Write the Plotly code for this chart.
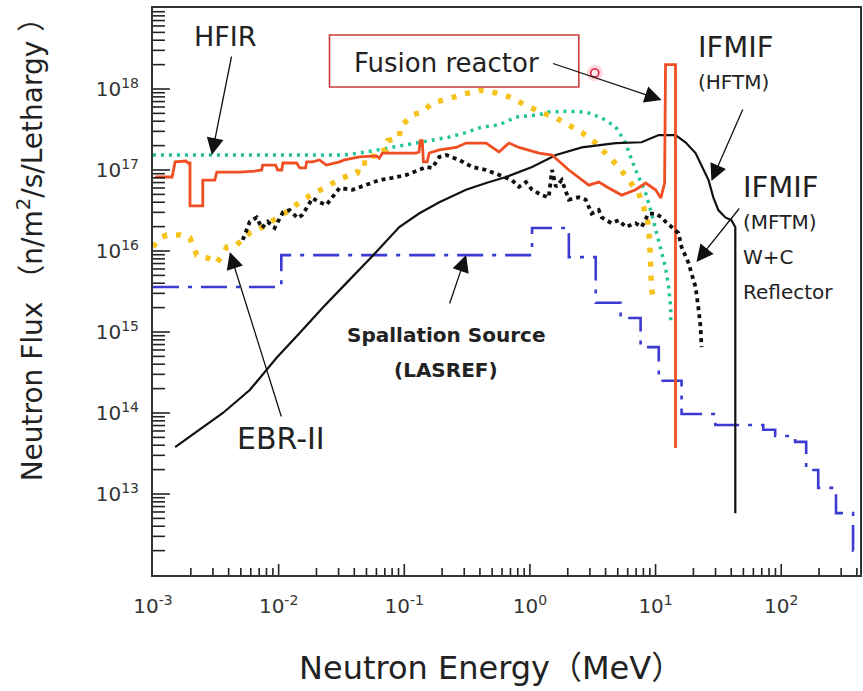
import math
import plotly.graph_objects as go

# ---- Neutron spectra: energy (MeV) vs flux (n/m^2/s/lethargy) ----

# Fusion reactor first wall (with the 14 MeV peak)
fusion_E = [0.00104, 0.00142, 0.0015, 0.00183, 0.0019, 0.00197, 0.00197, 0.00249, 0.00249, 0.0031,
            0.00322, 0.0049, 0.00645, 0.00733, 0.00746, 0.00946, 0.00982, 0.0106, 0.0108, 0.0139,
            0.0147, 0.0164, 0.0167, 0.0186, 0.0211, 0.024, 0.0305, 0.0334, 0.044, 0.06,
            0.0633, 0.0669, 0.124, 0.131, 0.134, 0.139, 0.142, 0.152, 0.158, 0.19,
            0.259, 0.31, 0.448, 0.499, 0.567, 0.645, 0.681, 0.818, 1.18, 1.5,
            2.04, 2.94, 3.53, 4.24, 5.37, 6.94, 8.34, 10.0, 11.0, 11.8,
            12.0, 14.4, 14.4]
fusion_F = [8.2e16, 8.2e16, 1.26e17, 1.29e17, 1.22e17, 1.22e17, 3.6e16, 3.6e16, 7.5e16, 7.5e16,
            9.4e16, 9.4e16, 9.7e16, 1.0e17, 1.15e17, 1.15e17, 1.0e17, 1.0e17, 1.22e17, 1.22e17,
            1.06e17, 1.06e17, 1.26e17, 1.26e17, 1.33e17, 1.15e17, 1.26e17, 1.33e17, 1.45e17, 1.49e17,
            1.4e17, 1.62e17, 1.62e17, 1.67e17, 2.3e17, 2.3e17, 1.26e17, 1.26e17, 1.62e17, 1.77e17,
            1.9e17, 2.15e17, 2.15e17, 1.9e17, 1.67e17, 2.0e17, 2.15e17, 1.9e17, 1.62e17, 1.53e17,
            1.0e17, 6.5e16, 7.1e16, 6.0e16, 4.9e16, 5.7e16, 6.9e16, 5.7e16, 4.5e16, 6.9e16,
            2.0e18, 2.0e18, 3.7e13]

# HFIR
hfir_E = [0.001, 0.0334, 0.0499, 0.131, 0.228, 0.31, 0.416, 0.567, 0.774, 1.18,
          1.41, 1.93, 2.78, 3.73, 4.82, 5.78, 6.45, 7.33, 8.34, 9.29,
          10.6, 12.0, 12.7, 13.2, 13.2]
hfir_F = [1.53e17, 1.53e17, 1.67e17, 2.2e17, 2.55e17, 2.9e17, 3.4e17, 3.6e17, 4.5e17, 4.8e17,
          5.2e17, 5.3e17, 5.2e17, 4.4e17, 3.4e17, 2.15e17, 1.33e17, 8.2e16, 5.2e16, 2.9e16,
          1.37e16, 6.3e15, 3.6e15, 2.0e15, 1.29e15]

# EBR-II
ebr_E = [0.001, 0.00114, 0.00129, 0.00164, 0.00197, 0.00223, 0.00273, 0.00322, 0.00353, 0.00387,
         0.00464, 0.00589, 0.00746, 0.00964, 0.0122, 0.0155, 0.0193, 0.0254, 0.0322, 0.0424,
         0.044, 0.0547, 0.0578, 0.072, 0.0737, 0.0913, 0.093, 0.116, 0.139, 0.167,
         0.2, 0.24, 0.31, 0.394, 0.499, 0.681, 0.929, 1.24, 1.61, 2.15,
         2.59, 3.34, 4.24, 5.09, 6.1, 7.33, 8.03, 8.65, 8.96, 9.12,
         9.29, 9.29, 10.0]
ebr_F = [1.12e16, 1.45e16, 1.58e16, 1.58e16, 1.45e16, 8.9e15, 8.2e15, 7.1e15, 8.9e15, 1.12e16,
         1.19e16, 1.67e16, 1.98e16, 2.55e16, 3.2e16, 4.3e16, 5.2e16, 6.5e16, 8.0e16, 9.2e16,
         1.22e17, 1.22e17, 1.67e17, 1.77e17, 2.3e17, 2.5e17, 3.4e17, 4.8e17, 5.2e17, 6.7e17,
         7.3e17, 7.7e17, 8.9e17, 9.7e17, 9.2e17, 8.0e17, 6.3e17, 5.1e17, 4.4e17, 3.4e17,
         2.9e17, 2.15e17, 1.45e17, 1.09e17, 7.5e16, 5.2e16, 3.5e16, 2.3e16, 1.37e16, 8.4e15,
         5.3e15, 3.3e15, 2.3e15]

# IFMIF high flux test module
hftm_E = [0.0015, 0.00236, 0.0036, 0.00589, 0.00964, 0.0147, 0.0223, 0.0366, 0.0568, 0.0913,
          0.131, 0.19, 0.31, 0.448, 0.645, 1.04, 1.61, 2.59, 4.82, 7.74,
          10.6, 14.4, 17.3, 20.8, 23.2, 26.4, 28.8, 31.6, 35.9, 40.1,
          43.1, 43.1]
hftm_F = [3.8e13, 6.2e13, 1.0e14, 1.92e14, 4.8e14, 9.7e14, 1.98e15, 4.4e15, 8.9e15, 1.98e16,
          2.9e16, 4.0e16, 5.7e16, 6.9e16, 8.2e16, 1.09e17, 1.53e17, 1.9e17, 2.15e17, 2.2e17,
          2.7e17, 2.7e17, 2.2e17, 1.62e17, 1.15e17, 7.5e16, 4.6e16, 3.2e16, 2.6e16, 2.4e16,
          1.98e16, 5.8e12]

# IFMIF medium flux test module, W+C reflector
mftm_E = [0.00518, 0.00589, 0.00669, 0.00733, 0.00818, 0.00929, 0.0108, 0.0122, 0.0142, 0.0155,
          0.0186, 0.0211, 0.024, 0.0305, 0.0387, 0.0499, 0.0633, 0.0803, 0.104, 0.131,
          0.15, 0.167, 0.19, 0.216, 0.273, 0.347, 0.448, 0.567, 0.72, 0.818,
          0.929, 1.04, 1.24, 1.41, 1.5, 1.61, 1.79, 2.04, 2.45, 2.78,
          3.1, 3.53, 3.73, 4.47, 5.09, 5.78, 6.94, 7.74, 8.8, 10.0,
          11.2, 12.0, 13.4, 15.2, 16.1, 17.3, 18.3, 19.3, 20.8, 21.9,
          22.8, 23.2]
mftm_F = [1.37e16, 2.3e16, 2.6e16, 1.92e16, 2.3e16, 1.92e16, 3.0e16, 3.2e16, 2.55e16, 2.8e16,
          4.5e16, 4.0e16, 3.7e16, 6.0e16, 5.7e16, 6.5e16, 7.5e16, 8.0e16, 8.7e16, 1.0e17,
          1.09e17, 1.06e17, 1.45e17, 1.53e17, 1.33e17, 1.09e17, 1.0e17, 8.7e16, 7.5e16, 6.2e16,
          7.1e16, 5.7e16, 4.9e16, 4.6e16, 1.0e17, 6.2e16, 7.5e16, 4.3e16, 4.6e16, 4.3e16,
          2.9e16, 3.2e16, 2.6e16, 2.2e16, 2.4e16, 1.98e16, 2.2e16, 1.98e16, 2.9e16, 2.9e16,
          2.6e16, 2.3e16, 1.98e16, 1.67e16, 1.12e16, 8.4e15, 7.1e15, 5.3e15, 3.6e15, 2.0e15,
          1.15e15, 6.5e14]

# Spallation source (LASREF), group-wise histogram
las_E = [0.001, 0.0105, 1.04, 2.04, 3.34, 5.27, 7.6, 10.6, 16.1, 29.9,
         71.9, 89.5, 129, 158, 197, 273, 373, 431]
las_F = [3.6e15, 8.9e15, 1.92e16, 8.4e15, 2.3e15, 1.49e15, 6.5e14, 2.5e14, 9.7e13, 7.1e13,
         6.2e13, 5.2e13, 4.4e13, 1.98e13, 1.19e13, 5.8e12, 2.0e12, 2.0e12]

x_tickvals = [1e-3, 1e-2, 1e-1, 1e0, 1e1, 1e2]
x_ticktext = ["10<sup>-3</sup>", "10<sup>-2</sup>", "10<sup>-1</sup>",
              "10<sup>0</sup>", "10<sup>1</sup>", "10<sup>2</sup>"]
y_tickvals = [1e13, 1e14, 1e15, 1e16, 1e17, 1e18]
y_ticktext = ["10<sup>13</sup>", "10<sup>14</sup>", "10<sup>15</sup>",
              "10<sup>16</sup>", "10<sup>17</sup>", "10<sup>18</sup>"]

X_RANGE = [-3, 2.627]   # log10 MeV
Y_RANGE = [12, 19]      # log10 flux

RED = "#f04e23"
TEAL = "#22c49c"
GOLD = "#f7c21c"
BLUE = "#3b3bd2"
BLACK = "#111111"
AXIS = "#222222"
FONT = "DejaVu Sans, Noto Sans CJK JP, sans-serif"

# plot area in canvas pixels -> paper fractions
X0, X1, Y0, Y1 = 153, 862, 8, 575
PW, PH = X1 - X0, Y1 - Y0

fig = go.Figure()
fig.add_trace(go.Scatter(x=las_E, y=las_F, mode="lines", line_shape="hv",
                         line=dict(color=BLUE, width=2.6, dash="26px,9px,4px,9px")))
fig.add_trace(go.Scatter(x=hfir_E, y=hfir_F, mode="lines",
                         line=dict(color=TEAL, width=3.5, dash="3px,5px")))
fig.add_trace(go.Scatter(x=ebr_E, y=ebr_F, mode="lines",
                         line=dict(color=GOLD, width=5.5, dash="5px,9px")))
fig.add_trace(go.Scatter(x=hftm_E, y=hftm_F, mode="lines",
                         line=dict(color=BLACK, width=2.2)))
fig.add_trace(go.Scatter(x=fusion_E, y=fusion_F, mode="lines",
                         line=dict(color=RED, width=2.8)))
fig.add_trace(go.Scatter(x=mftm_E, y=mftm_F, mode="lines",
                         line=dict(color=BLACK, width=3.8, dash="4px,4px")))

# inward log tick comb along the bottom and left axes
# (decades long, 2..9 short); lengths converted from pixels to decades
dec_x = PW / (X_RANGE[1] - X_RANGE[0])
dec_y = PH / (Y_RANGE[1] - Y_RANGE[0])
bx, by, lx, ly = [], [], [], []
for e in range(-3, 3):
    for m in range(1, 10):
        v = math.log10(m) + e
        if X_RANGE[0] < v < X_RANGE[1]:
            L = 11 if m == 1 else 7
            bx += [10 ** v, 10 ** v, None]
            by += [10 ** Y_RANGE[0], 10 ** (Y_RANGE[0] + L / dec_y), None]
for e in range(12, 19):
    for m in range(1, 10):
        v = math.log10(m) + e
        if Y_RANGE[0] < v < Y_RANGE[1]:
            L = 17 if m == 1 else 12
            lx += [10 ** X_RANGE[0], 10 ** (X_RANGE[0] + L / dec_x), None]
            ly += [10 ** v, 10 ** v, None]
for tx, ty in ((bx, by), (lx, ly)):
    fig.add_trace(go.Scatter(x=tx, y=ty, mode="lines", hoverinfo="skip",
                             line=dict(color=AXIS, width=1.6)))


def fx(p):
    return (p - X0) / PW


def fy(p):
    return (Y1 - p) / PH


def label(text, px, py, size, anchor="center", bold=False):
    if bold:
        text = "<b>" + text + "</b>"
    return dict(text=text, x=fx(px), y=fy(py), xref="paper", yref="paper",
                xanchor=anchor, yanchor="middle", showarrow=False,
                font=dict(family=FONT, size=size, color="#222222"))


def arrow(tail, tip):
    return dict(text="", x=fx(tip[0]), y=fy(tip[1]), xref="paper", yref="paper",
                ax=tail[0] - tip[0], ay=tail[1] - tip[1], axref="pixel", ayref="pixel",
                showarrow=True, arrowhead=2, arrowsize=2.6, arrowwidth=1.3,
                arrowcolor="#111111")


annotations = [
    label("HFIR", 226, 36, 27),
    label("Fusion reactor", 447, 63, 26),
    label("IFMIF", 698, 47, 29, anchor="left"),
    label("(HFTM)", 698, 82, 20, anchor="left"),
    label("IFMIF", 743, 187, 29, anchor="left"),
    label("(MFTM)", 743, 222, 20, anchor="left"),
    label("W+C", 743, 257, 20, anchor="left"),
    label("Reflector", 743, 292, 20, anchor="left"),
    label("Spallation Source", 447, 335, 20, bold=True),
    label("(LASREF)", 447, 370, 20, bold=True),
    label("EBR-II", 281, 438, 30),
    arrow((232, 55), (212, 155)),
    arrow((553, 63), (663, 100)),
    arrow((745, 108), (713, 181)),
    arrow((742, 207), (698, 262)),
    arrow((450, 305), (467, 255)),
    arrow((282, 418), (230, 252)),
    dict(text="Neutron Energy（MeV）", x=fx(492), y=fy(668), xref="paper", yref="paper",
         showarrow=False, xanchor="center", yanchor="middle",
         font=dict(family=FONT, size=32, color="#222222")),
    dict(text="Neutron Flux （n/m<sup>2</sup>/s/Lethargy ）", x=fx(30), y=fy(242),
         xref="paper", yref="paper", showarrow=False, textangle=-90,
         xanchor="center", yanchor="middle",
         font=dict(family=FONT, size=28, color="#222222")),
]

shapes = [
    dict(type="rect", xref="paper", yref="paper", x0=fx(330), x1=fx(580), y0=fy(87), y1=fy(35),
         line=dict(color="#cc3b3b", width=1.6), fillcolor="rgba(0,0,0,0)"),
    dict(type="circle", xref="paper", yref="paper", x0=fx(588), x1=fx(604), y0=fy(81), y1=fy(65),
         line=dict(width=0), fillcolor="rgba(255,90,120,0.25)"),
    dict(type="circle", xref="paper", yref="paper", x0=fx(592), x1=fx(600), y0=fy(77), y1=fy(69),
         line=dict(color="#e02040", width=1.6), fillcolor="rgba(255,255,255,0.6)"),
]

axis_common = dict(type="log", showgrid=False, zeroline=False, showline=True,
                   linewidth=2, linecolor="#333333", mirror=True,
                   ticks="", tickmode="array",
                   tickfont=dict(family=FONT, size=20, color="#333333"))

fig.update_layout(
    width=863, height=691,
    margin=dict(l=X0, r=863 - X1, t=Y0, b=691 - Y1),
    paper_bgcolor="white", plot_bgcolor="white",
    showlegend=False,
    xaxis=dict(axis_common, range=X_RANGE, tickvals=x_tickvals, ticktext=x_ticktext,
               ticklabelstandoff=12),
    yaxis=dict(axis_common, range=Y_RANGE, tickvals=y_tickvals, ticktext=y_ticktext,
               ticklabelstandoff=8),
    annotations=annotations,
    shapes=shapes,
)

fig.write_html("out.html")
